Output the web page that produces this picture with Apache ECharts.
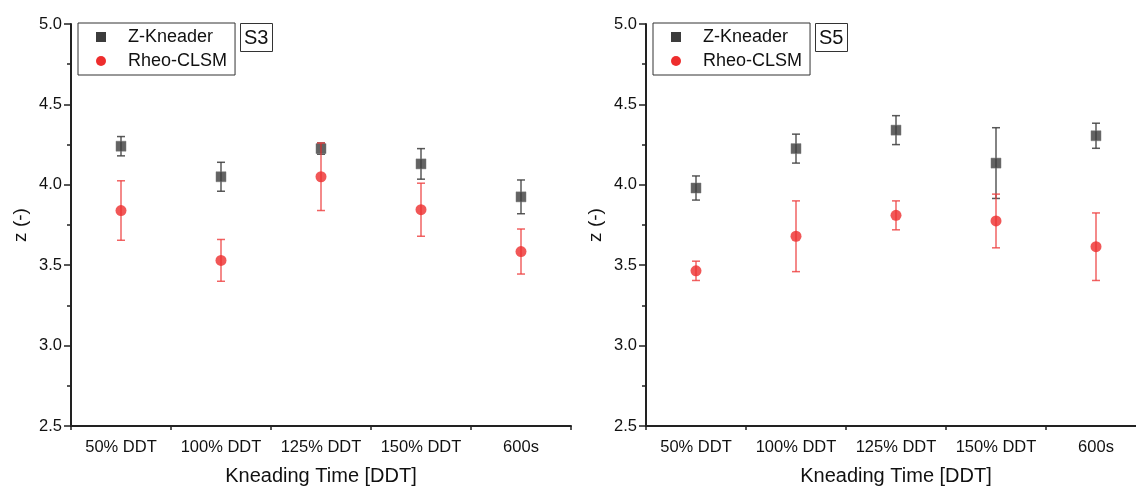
<!DOCTYPE html>
<html>
<head>
<meta charset="utf-8">
<script src="https://cdn.jsdelivr.net/npm/echarts@6/dist/echarts.min.js"></script>
<style>
  html, body { margin: 0; padding: 0; background: #fff; }
  #chart { width: 1136px; height: 487px; }
</style>
</head>
<body>
<div id="chart"></div>
<script>
// Kneading-time categories shared by both panels
const categories = ['50% DDT', '100% DDT', '125% DDT', '150% DDT', '600s'];
const yTicks = [2.5, 3.0, 3.5, 4.0, 4.5, 5.0];

// Panel S3: mean z and error (±)
const s3Kneader = [4.24, 4.05, 4.225, 4.13, 3.925];
const s3KneaderErr = [0.06, 0.09, 0.035, 0.095, 0.105];
const s3Clsm = [3.84, 3.53, 4.05, 3.845, 3.585];
const s3ClsmErr = [0.185, 0.13, 0.21, 0.165, 0.14];

// Panel S5: mean z and error (±)
const s5Kneader = [3.98, 4.225, 4.34, 4.135, 4.305];
const s5KneaderErr = [0.075, 0.09, 0.09, 0.22, 0.078];
const s5Clsm = [3.465, 3.68, 3.81, 3.775, 3.615];
const s5ClsmErr = [0.06, 0.22, 0.09, 0.167, 0.21];

const FONT = 'Liberation Sans, Arial, sans-serif';
const GREY = '#3c3c3c';
const RED = '#ee2d2d';
const panels = [
  { tag: 'S3', left: 71, kn: s3Kneader, knErr: s3KneaderErr, cl: s3Clsm, clErr: s3ClsmErr },
  { tag: 'S5', left: 646, kn: s5Kneader, knErr: s5KneaderErr, cl: s5Clsm, clErr: s5ClsmErr }
];

function barData(vals, errs) {
  return vals.map((v, i) => [i, v - errs[i], v + errs[i]]);
}

// Vertical error bar with short caps, placed through the axis scales
function errorBarRenderer(color) {
  return function (params, api) {
    const x = api.value(0);
    const top = api.coord([x, api.value(2)]);
    const bot = api.coord([x, api.value(1)]);
    const half = 4;
    const st = { stroke: color, lineWidth: 1.5 };
    return {
      type: 'group',
      children: [
        { type: 'line', shape: { x1: top[0], y1: top[1], x2: bot[0], y2: bot[1] }, style: st },
        { type: 'line', shape: { x1: top[0] - half, y1: top[1], x2: top[0] + half, y2: top[1] }, style: st },
        { type: 'line', shape: { x1: bot[0] - half, y1: bot[1], x2: bot[0] + half, y2: bot[1] }, style: st }
      ]
    };
  };
}

const option = {
  backgroundColor: '#fff',
  animation: false,
  grid: [], xAxis: [], yAxis: [], series: [], legend: [], title: []
};

panels.forEach((p, k) => {
  // fixed plot box; the right panel runs past the canvas edge
  option.grid.push({ left: p.left, top: 24, width: 500, height: 402, outerBoundsMode: 'none', containLabel: false });
  // labelled axis with ticks at category centres
  option.xAxis.push({
    type: 'category', gridIndex: k, position: 'bottom', data: categories, boundaryGap: true,
    name: 'Kneading Time [DDT]', nameLocation: 'middle', nameGap: 40,
    nameTextStyle: { fontFamily: FONT, fontSize: 20, color: '#111' },
    axisLine: { lineStyle: { color: '#222', width: 2 } },
    axisTick: { alignWithLabel: true, length: 7, lineStyle: { color: '#222', width: 1.5 } },
    axisLabel: { fontFamily: FONT, fontSize: 16.5, color: '#111', margin: 13, interval: 0 },
    splitLine: { show: false }
  });
  // companion axis carrying the short ticks between categories
  option.xAxis.push({
    type: 'category', gridIndex: k, position: 'bottom', data: categories, boundaryGap: true,
    axisLine: { show: false },
    axisTick: { show: true, length: 4, interval: 0, lineStyle: { color: '#222', width: 1.5 } },
    axisLabel: { show: false }, splitLine: { show: false }
  });
  option.yAxis.push({
    type: 'value', gridIndex: k, min: yTicks[0], max: yTicks[yTicks.length - 1], interval: 0.5,
    name: 'z (-)', nameLocation: 'middle', nameGap: 41,
    nameTextStyle: { fontFamily: FONT, fontSize: 19, color: '#111' },
    axisLine: { show: true, lineStyle: { color: '#222', width: 2 } },
    axisTick: { show: true, length: 7, lineStyle: { color: '#222', width: 1.5 } },
    minorTick: { show: true, splitNumber: 2, length: 4, lineStyle: { color: '#222', width: 1.5 } },
    axisLabel: { fontFamily: FONT, fontSize: 16.5, color: '#111', margin: 9, formatter: v => v.toFixed(1) },
    splitLine: { show: false }
  });

  const xi = k * 2;
  option.series.push(
    {
      type: 'custom', name: 'Z-Kneader', xAxisIndex: xi, yAxisIndex: k, z: 1,
      renderItem: errorBarRenderer('rgba(60,60,60,0.85)'),
      data: barData(p.kn, p.knErr), encode: { x: 0, y: [1, 2] }, silent: true
    },
    {
      type: 'scatter', name: 'Z-Kneader', xAxisIndex: xi, yAxisIndex: k, z: 2,
      symbol: 'rect', symbolSize: 10,
      itemStyle: { color: GREY, borderColor: '#777', borderWidth: 0.6 },
      data: p.kn
    },
    {
      type: 'custom', name: 'Rheo-CLSM', xAxisIndex: xi, yAxisIndex: k, z: 3,
      renderItem: errorBarRenderer('rgba(238,60,60,0.8)'),
      data: barData(p.cl, p.clErr), encode: { x: 0, y: [1, 2] }, silent: true
    },
    {
      type: 'scatter', name: 'Rheo-CLSM', xAxisIndex: xi, yAxisIndex: k, z: 4,
      symbol: 'circle', symbolSize: 11,
      itemStyle: { color: RED },
      data: p.cl
    }
  );

  option.legend.push({
    orient: 'vertical', left: p.left + 7, top: 23,
    width: 158,
    data: [
      { name: 'Z-Kneader', icon: 'rect', itemStyle: { color: GREY } },
      { name: 'Rheo-CLSM', icon: 'circle', itemStyle: { color: RED } }
    ],
    itemWidth: 10, itemHeight: 10, itemGap: 6,
    padding: [5, 8, 5, 18],
    borderColor: '#333', borderWidth: 1,
    textStyle: { fontFamily: FONT, fontSize: 18, color: '#111', padding: [0, 0, 0, 17] },
    selectedMode: false
  });
  option.title.push({
    text: p.tag, left: p.left + 169, top: 23,
    borderColor: '#333', borderWidth: 1, padding: [5, 4, 4, 4],
    textStyle: { fontFamily: FONT, fontSize: 20, fontWeight: 'normal', color: '#111' }
  });
});

const chart = echarts.init(document.getElementById('chart'), null, { renderer: 'canvas' });
chart.setOption(option);
</script>
</body>
</html>
